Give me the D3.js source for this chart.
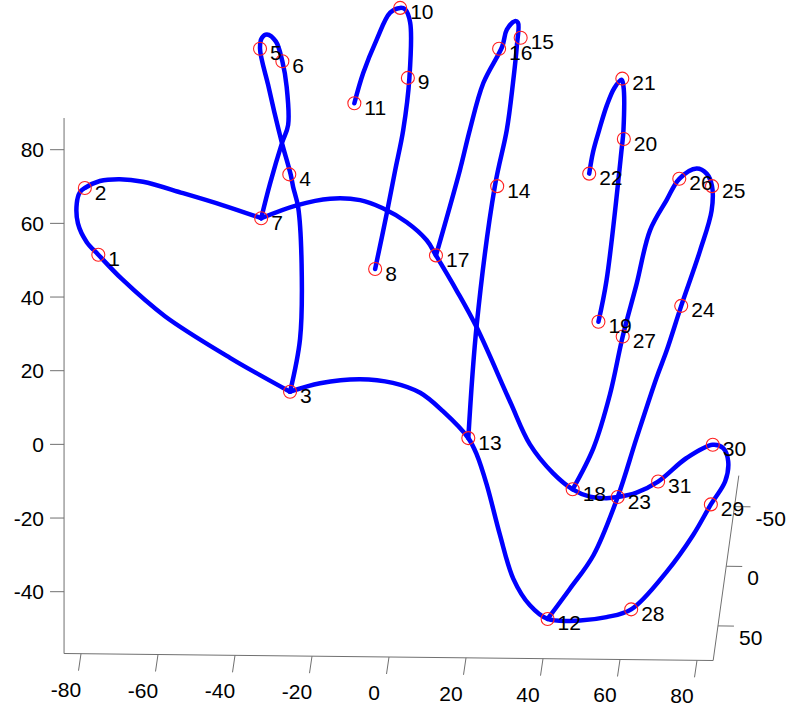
<!DOCTYPE html>
<html>
<head>
<meta charset="utf-8">
<script src="https://cdn.jsdelivr.net/npm/d3@7"></script>
<style>
  body { margin: 0; background: #fff; }
  svg { display: block; }
  text { font-family: "Liberation Sans", Arial, sans-serif; fill: #000; }
</style>
</head>
<body>
<svg id="chart" width="787" height="709"></svg>
<script>
// Numbered landmarks of the hand outline (horizontal value, vertical value)
const pointIds = [1, 2, 3, 4, 5, 6, 7, 8, 9, 10, 11, 12, 13, 14, 15, 16,
                  17, 18, 19, 20, 21, 22, 23, 24, 25, 26, 27, 28, 29, 30, 31];
const pointX = [-75.5, -79.0, -25.7, -25.9, -33.5, -27.7, -33.2, -3.6, 4.9, 2.9, -9.0,
                41.2, 20.6, 28.1, 34.2, 28.6, 12.2, 47.7, 54.4, 61.0, 60.6, 52.0,
                59.4, 75.9, 83.9, 75.4, 60.7, 62.9, 83.6, 84.1, 69.9];
const pointY = [51.5, 69.6, 14.3, 73.3, 107.4, 104.0, 61.4, 47.6, 99.5, 118.5, 92.6,
                -47.4, 1.7, 70.1, 110.4, 107.4, 51.3, -12.2, 33.3, 82.9, 99.3, 73.5,
                -14.3, 37.6, 70.1, 72.1, 29.3, -44.8, -16.3, -0.1, -10.1];

// Curve pieces: a number refers to a landmark, a pair is an extra point on the curve
const palmRight = [3, [-17.9, 16.6], [-7.5, 17.7], [1.0, 16.7], [8.1, 14.0], [14.0, 9.0], 13,
  [22.8, -2.8], [25.4, -11.0], [28.8, -24.5], [32.3, -36.5], [36.6, -43.7], 12,
  [49.6, -47.8], [56.5, -46.9], 28, [72.1, -34.6], [79.0, -24.6], 29,
  [87.3, -10.1], [88.1, -4.6], [86.8, -1.0], 30, [77.3, -3.7], 31, [64.3, -13.1], 23,
  [56.5, -14.6], [52.2, -14.2], 18, [42.6, -7.8], [36.6, 0.0], [31.4, 11.7],
  [22.8, 31.7], [17.6, 41.7], 17, [9.8, 55.4], [4.6, 60.3], [-1.6, 64.1],
  [-7.5, 66.3], [-15.3, 66.7], [-24.0, 64.9], 7];
const palmLeft = [7, [-43.1, 64.9], [-53.5, 68.2], [-63.9, 71.3], [-69.9, 72.0], [-75.1, 71.5], 2,
  [-80.3, 68.4], [-81.1, 65.4], [-80.8, 60.0], [-78.5, 54.9], 1,
  [-69.4, 44.9], [-58.2, 34.8], [-41.3, 23.5], [-33.5, 18.8], 3];
const thumb = [3, [-23.1, 28.7], [-22.7, 49.0], [-23.6, 64.4], [-24.9, 69.9], [-25.5, 73.1],
  [-27.8, 81.8], [-29.6, 89.4], [-31.4, 97.6], 5, [-33.0, 110.4], [-31.7, 111.3],
  [-29.4, 109.4], 6, [-26.6, 97.2], [-26.2, 86.7], [-27.8, 81.8], [-30.9, 70.8], 7];
const indexFinger = [8, [-0.6, 62.6], [1.6, 74.4], [3.7, 85.4], [5.3, 99.5], [5.5, 114.5],
  [4.2, 118.1], 10, [0.3, 117.2], [-3.2, 109.9], [-6.7, 100.8], 11];
const middleFinger = [13, [22.8, 32.6], [27.5, 70.1], [30.6, 85.4], [32.2, 98.1], [33.2, 108.1],
  [33.5, 114.5], [32.7, 114.9], [30.6, 112.6], [29.4, 108.0], [24.5, 98.1],
  [21.0, 85.4], [18.4, 74.4], 17];
const ringFinger = [19, [56.5, 44.5], [60.4, 79.9], [60.9, 85.4], [60.9, 97.2], [60.4, 99.0],
  [58.5, 96.7], [56.6, 92.1], [54.6, 85.4], [53.0, 79.4], 22];
const littleFinger = [18, [53.1, -1.0], [57.4, 13.6], 27, [64.3, 43.5], [67.8, 58.1],
  [72.1, 66.3], 26, [79.9, 74.9], [82.5, 73.5], 25, [83.8, 63.5], [80.8, 52.6], 24,
  [72.1, 25.4], [69.5, 18.1], [64.3, 1.7], 23, [53.1, -30.1], [47.0, -39.2], 12];
const strokes = [palmRight, palmLeft, thumb, indexFinger, middleFinger, ringFinger, littleFinger];

// Axis ticks
const xTicks = [-80, -60, -40, -20, 0, 20, 40, 60, 80];
const yTicks = [-40, -20, 0, 20, 40, 60, 80];
const zTicks = [-50, 0, 50];
const xLim = [-84.4, 84.2];
const yLim = [-56.8, 88.6];
const zLim = [-76, 79];

const svg = d3.select("#chart");

const xScale = d3.scaleLinear().domain([-80, 80]).range([81, 697]);
const yScale = d3.scaleLinear().domain([-40, 80]).range([591.7, 149.7]);
// the floor edge of the box leans slightly downward to the right
const baseY = d3.scaleLinear().domain(xLim).range([653.5, 660.5]);
// depth axis runs up and to the right from the front-right corner
const zxScale = d3.scaleLinear().domain(zLim).range([738.8, xScale(xLim[1])]);
const zyScale = d3.scaleLinear().domain(zLim).range([475.6, baseY(xLim[1])]);

const axisColor = "#707070";
const axes = svg.append("g").attr("stroke", axisColor).attr("stroke-width", 1).attr("fill", "none");

// vertical axis
axes.append("line")
  .attr("x1", xScale(xLim[0])).attr("x2", xScale(xLim[0]))
  .attr("y1", yScale(yLim[1])).attr("y2", yScale(yLim[0]));
axes.selectAll(".ytick").data(yTicks).join("line")
  .attr("x1", xScale(xLim[0]) - 14).attr("x2", xScale(xLim[0]))
  .attr("y1", d => yScale(d)).attr("y2", d => yScale(d));

// horizontal axis
axes.append("line")
  .attr("x1", xScale(xLim[0])).attr("y1", baseY(xLim[0]))
  .attr("x2", xScale(xLim[1])).attr("y2", baseY(xLim[1]));
axes.selectAll(".xtick").data(xTicks).join("line")
  .attr("x1", d => xScale(d)).attr("y1", d => baseY(d))
  .attr("x2", d => xScale(d) - 2.5).attr("y2", d => baseY(d) + 17);

// depth axis
axes.append("line")
  .attr("x1", zxScale(zLim[0])).attr("y1", zyScale(zLim[0]))
  .attr("x2", zxScale(zLim[1])).attr("y2", zyScale(zLim[1]));
axes.selectAll(".ztick").data(zTicks).join("line")
  .attr("x1", d => zxScale(d)).attr("y1", d => zyScale(d))
  .attr("x2", d => zxScale(d) + 16).attr("y2", d => zyScale(d) + 0.2);

const labels = svg.append("g").attr("font-size", 21);
labels.selectAll(".ylab").data(yTicks).join("text")
  .attr("x", xScale(xLim[0]) - 20).attr("y", d => yScale(d) + 7.5)
  .attr("text-anchor", "end").text(d => d);
labels.selectAll(".xlab").data(xTicks).join("text")
  .attr("x", d => xScale(d) - 15).attr("y", d => baseY(d) + 43)
  .attr("text-anchor", "middle").text(d => d);
labels.selectAll(".zlab").data(zTicks).join("text")
  .attr("x", d => zxScale(d) + 21).attr("y", d => zyScale(d) + 19)
  .attr("text-anchor", "start").text(d => d);

// resolve curve entries to values
const resolve = d => typeof d === "number" ? [pointX[d - 1], pointY[d - 1]] : d;
const line = d3.line()
  .x(d => xScale(d[0])).y(d => yScale(d[1]))
  .curve(d3.curveCatmullRom.alpha(0.5));

svg.append("g")
  .attr("fill", "none").attr("stroke", "#0000ff").attr("stroke-width", 4.5)
  .attr("stroke-linejoin", "round").attr("stroke-linecap", "round")
  .selectAll("path").data(strokes).join("path")
  .attr("d", s => line(s.map(resolve)));

// landmark circles and their numbers
const pts = pointIds.map((id, i) => ({ id, x: pointX[i], y: pointY[i] }));
svg.append("g").selectAll("circle").data(pts).join("circle")
  .attr("cx", d => xScale(d.x)).attr("cy", d => yScale(d.y)).attr("r", 6.5)
  .attr("fill", "none").attr("stroke", "#ff2020").attr("stroke-width", 1.1);
svg.append("g").attr("font-size", 21).selectAll("text").data(pts).join("text")
  .attr("x", d => xScale(d.x) + 10).attr("y", d => yScale(d.y) + 11.5)
  .text(d => d.id);
</script>
</body>
</html>
